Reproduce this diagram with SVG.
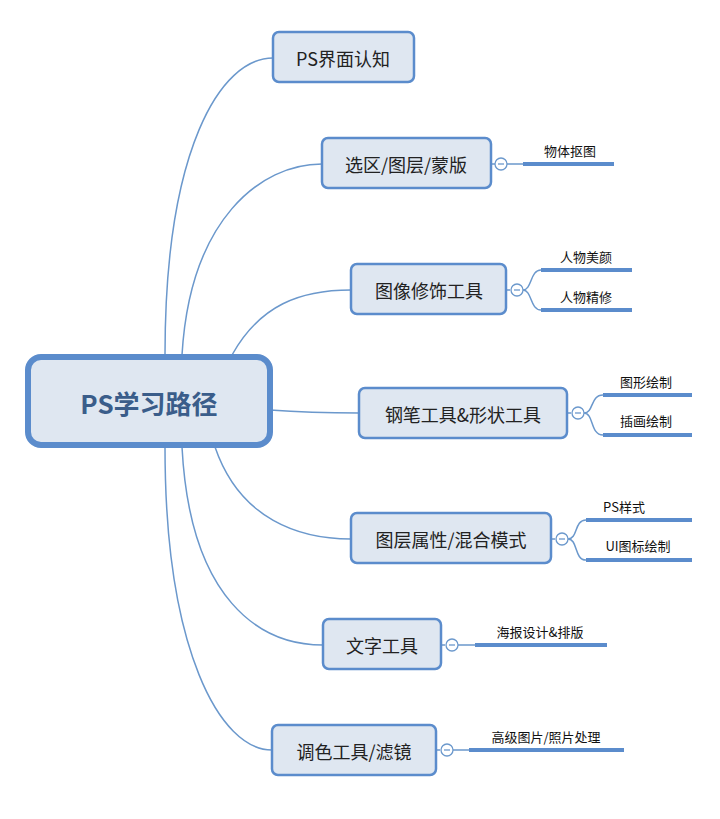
<svg xmlns="http://www.w3.org/2000/svg" width="720" height="819" viewBox="0 0 720 819">
<style>
.n{fill:#dfe7f1;stroke:#5b8ccc;stroke-width:2.5}
.t{font-family:"Noto Sans CJK SC","Noto Sans",sans-serif;font-size:18px;fill:#222;text-anchor:middle;dominant-baseline:central}
.l{font-family:"Noto Sans CJK SC","Noto Sans",sans-serif;font-size:13px;fill:#111;text-anchor:middle;dominant-baseline:central}
.c{fill:none;stroke:#6b98cc;stroke-width:1.5}
.b{fill:none;stroke:#5b8ccc;stroke-width:4}
.o{fill:#fff;stroke:#6b98cc;stroke-width:1.3}
.m{stroke:#6b98cc;stroke-width:1.3}
</style>
<rect width="720" height="819" fill="#fff"/>
<g id="connectors">
<path class="c" d="M165,355 C165,150 220,58 273,58"/>
<path class="c" d="M182,355 C190,220 260,164 322,164"/>
<path class="c" d="M232,355 C260,305 300,290 351,290"/>
<path class="c" d="M270,410 C310,413 330,413 359,413"/>
<path class="c" d="M215,447 C240,520 300,539 351,539"/>
<path class="c" d="M182,447 C190,600 260,645 323,645"/>
<path class="c" d="M165,447 C165,650 220,750 272,750"/>
<path class="c" d="M491,164 H495 M507,164 H523"/>
<path class="c" d="M506,290 H510 M523,290 C532,290 530,270 541,270 M523,290 C532,290 530,310 541,310"/>
<path class="c" d="M567,413 H571 M584,413 C594,413 590,395 603,395 M584,413 C594,413 590,435 603,435"/>
<path class="c" d="M551,539 H555 M568,539 C578,539 574,520 586,520 M568,539 C578,539 574,560 586,560"/>
<path class="c" d="M441,645 H445 M458,645 H475"/>
<path class="c" d="M436,750 H440 M453,750 H469"/>
<path class="b" d="M523,164 H614 M541,270 H632 M541,310 H632 M603,395 H692 M603,435 H692 M586,520 H692 M586,560 H692 M475,645 H607 M469,750 H624"/>
</g>
<g id="center">
<rect x="28" y="357" width="242" height="88" rx="13" fill="#dfe7f1" stroke="#5b8ccc" stroke-width="6"/>
<text x="149" y="402" font-family="'Noto Sans CJK SC','Noto Sans',sans-serif" font-size="26" font-weight="bold" fill="#3a5d8a" text-anchor="middle" dominant-baseline="central">PS学习路径</text>
</g>
<g id="n1"><rect class="n" x="273" y="32" width="141" height="50" rx="6"/><text class="t" x="343" y="58">PS界面认知</text></g>
<g id="n2"><rect class="n" x="322" y="138" width="169" height="50" rx="6"/><text class="t" x="406" y="164">选区/图层/蒙版</text>
<circle class="o" cx="501" cy="164" r="6"/><line class="m" x1="498" y1="164" x2="504" y2="164"/><text class="l" x="570" y="150">物体抠图</text></g>
<g id="n3"><rect class="n" x="351" y="264" width="155" height="50" rx="6"/><text class="t" x="429" y="290">图像修饰工具</text>
<circle class="o" cx="517" cy="290" r="6"/><line class="m" x1="514" y1="290" x2="520" y2="290"/><text class="l" x="586" y="256">人物美颜</text><text class="l" x="586" y="296">人物精修</text></g>
<g id="n4"><rect class="n" x="359" y="388" width="208" height="50" rx="6"/><text class="t" x="463" y="414">钢笔工具&amp;形状工具</text>
<circle class="o" cx="578" cy="413" r="6"/><line class="m" x1="575" y1="413" x2="581" y2="413"/><text class="l" x="646" y="381">图形绘制</text><text class="l" x="646" y="420">插画绘制</text></g>
<g id="n5"><rect class="n" x="351" y="513" width="200" height="50" rx="6"/><text class="t" x="451" y="539">图层属性/混合模式</text>
<circle class="o" cx="562" cy="539" r="6"/><line class="m" x1="559" y1="539" x2="565" y2="539"/><text class="l" x="624" y="506">PS样式</text><text class="l" x="638" y="545">UI图标绘制</text></g>
<g id="n6"><rect class="n" x="323" y="619" width="118" height="50" rx="6"/><text class="t" x="382" y="645">文字工具</text>
<circle class="o" cx="452" cy="645" r="6"/><line class="m" x1="449" y1="645" x2="455" y2="645"/><text class="l" x="540" y="631">海报设计&amp;排版</text></g>
<g id="n7"><rect class="n" x="272" y="725" width="164" height="50" rx="6"/><text class="t" x="354" y="751">调色工具/滤镜</text>
<circle class="o" cx="447" cy="750" r="6"/><line class="m" x1="444" y1="750" x2="450" y2="750"/><text class="l" x="546" y="736">高级图片/照片处理</text></g>
</svg>
